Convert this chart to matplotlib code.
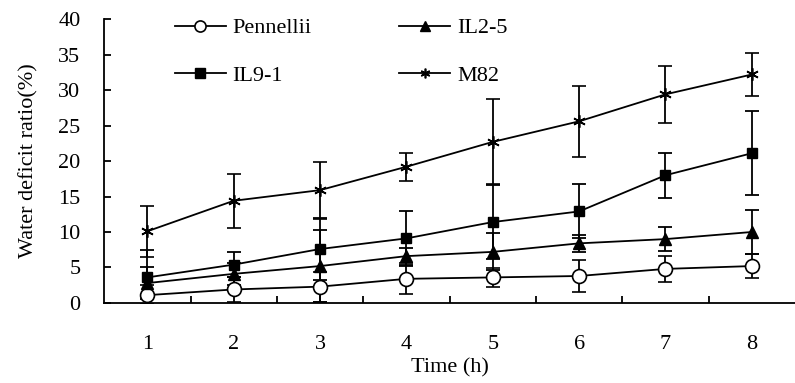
import matplotlib.pyplot as plt
from matplotlib.lines import Line2D

plt.rcParams['font.family'] = ['Liberation Serif', 'DejaVu Serif']

time = [1, 2, 3, 4, 5, 6, 7, 8]

pennellii = [1.1, 1.9, 2.3, 3.4, 3.6, 3.8, 4.8, 5.2]
pennellii_err = [1.4, 1.7, 2.1, 2.2, 1.3, 2.2, 1.8, 1.7]

il25 = [2.8, 4.1, 5.2, 6.6, 7.2, 8.4, 9.0, 10.0]
il25_err = [2.3, 1.5, 5.1, 1.2, 2.6, 1.2, 1.7, 3.1]

il91 = [3.6, 5.4, 7.6, 9.1, 11.4, 12.9, 18.0, 21.1]
il91_err = [3.8, 1.8, 4.4, 3.9, 5.2, 3.8, 3.2, 5.9]

m82 = [10.1, 14.4, 15.9, 19.2, 22.7, 25.6, 29.4, 32.2]
m82_err = [3.6, 3.8, 4.0, 2.0, 6.0, 5.0, 4.0, 3.0]

fig = plt.figure(figsize=(7.95, 3.83), dpi=100)
ax = fig.add_axes([0.131, 0.209, 0.869, 0.741])

common = dict(color='black', lw=1.3, capsize=5, elinewidth=1.3, capthick=1.3)
ax.errorbar(time, pennellii, yerr=pennellii_err, marker='o', ms=10, mfc='white',
            mec='black', mew=1.2, **common)
ax.errorbar(time, il25, yerr=il25_err, marker='^', ms=8, mfc='black', **common)
ax.errorbar(time, il91, yerr=il91_err, marker='s', ms=7.5, mfc='black', **common)
ax.errorbar(time, m82, yerr=m82_err, marker=(6, 2, 0), ms=9, mew=1.2, **common)

ax.set_xlim(0.5, 8.5)
ax.set_ylim(0, 40)
ax.set_yticks(range(0, 41, 5))
ax.set_xticks(time)
ax.set_xticks([1.5, 2.5, 3.5, 4.5, 5.5, 6.5, 7.5], minor=True)
ax.tick_params(axis='x', which='major', length=0, pad=23, labelsize=16)
ax.tick_params(axis='x', which='minor', direction='in', length=5, width=1.3)
ax.tick_params(axis='y', direction='in', length=5, width=1.3, labelsize=16, pad=17)

for s in ['top', 'right']:
    ax.spines[s].set_visible(False)
for s in ['left', 'bottom']:
    ax.spines[s].set_linewidth(1.3)

ax.set_xlabel('Time (h)', fontsize=16, labelpad=3)
ax.set_ylabel('Water deficit ratio(%)', fontsize=16, labelpad=14)

# legend handles (column order: Pennellii, IL9-1 | IL2-5, M82)
h_pen = Line2D([], [], color='black', lw=1.3, marker='o', ms=8, mfc='white', mew=1.2)
h_il91 = Line2D([], [], color='black', lw=1.3, marker='s', ms=6.5, mfc='black')
h_il25 = Line2D([], [], color='black', lw=1.3, marker='^', ms=7, mfc='black')
h_m82 = Line2D([], [], color='black', lw=1.3, marker=(6, 2, 0), ms=7, mew=1.2)
ax.legend([h_pen, h_il91, h_il25, h_m82], ['Pennellii', 'IL9-1', 'IL2-5', 'M82'],
          loc='upper left', bbox_to_anchor=(0.073, 1.075), ncol=2, frameon=False,
          fontsize=16, handlelength=2.3, columnspacing=3.95, labelspacing=1.2,
          handletextpad=0.3)

fig.savefig('out.png', dpi=100)
